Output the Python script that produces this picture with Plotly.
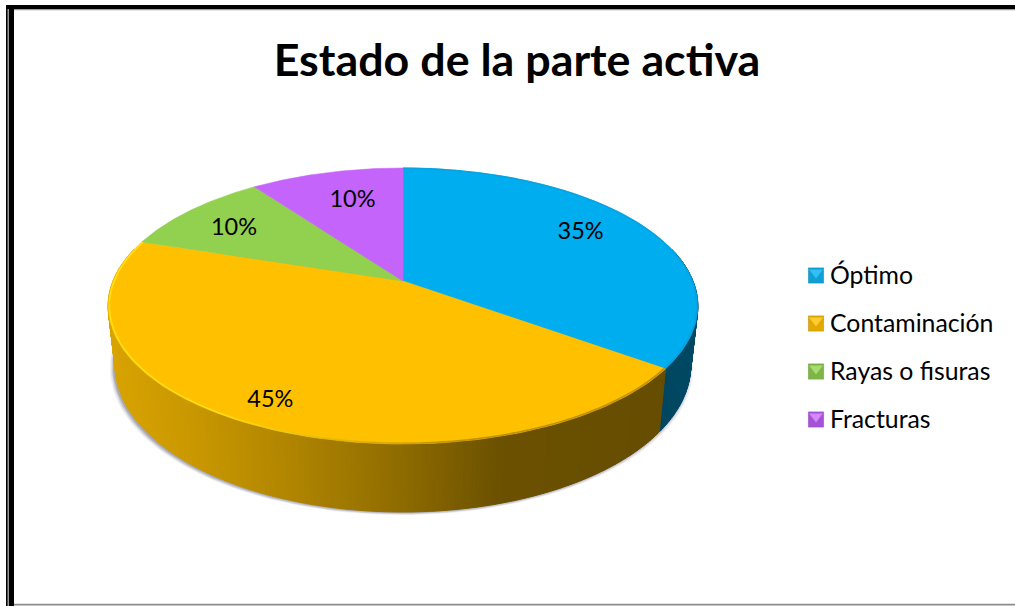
import numpy as np
import plotly.graph_objects as go

TITLE = "Estado de la parte activa"
categories = ["Óptimo", "Contaminación", "Rayas o fisuras", "Fracturas"]
values = [35, 45, 10, 10]
label_texts = ["35%", "45%", "10%", "10%"]
colors = ["#00AEEF", "#FFC000", "#92D050", "#C564FA"]
rim_colors = ["#08A2E0", "#FFE61A", "#92D050", "#C564FA"]
swatch_sides = ["#0F9FD6", "#E2A900", "#7DB546", "#A552D8"]
swatch_tops = ["#33BFF2", "#FFCC33", "#A8DC70", "#D288FB"]
label_radius = [0.72, 0.85, 0.75, 0.68]
label_nudge_x = [2, -3, -6, 4]
label_nudge_y = [-7, 3, 3, -3]

W, H = 1015, 606
CX = 403
# perspective view of the pie: top and bottom faces of the disc
K = -0.181
TOP = dict(a=290.0, b=133.5, y0=281.0)
BOT = dict(a=283.0, b=142.0, y0=338.6)

shade_x = [110, 200, 300, 400, 500, 660, 700]
shade_f = [0.85, 0.78, 0.68, 0.56, 0.42, 0.40, 0.42]


def project(theta, r, face):
    u, v = r * np.sin(theta), -r * np.cos(theta)
    d = 1 + K * v
    return CX + face["a"] * u / d, face["y0"] + face["b"] * v / d


def scaled(color, f):
    c = [int(color[i:i + 2], 16) for i in (1, 3, 5)]
    return "rgb(%d,%d,%d)" % tuple(round(x * f) for x in c)


fractions = np.array(values) / sum(values)
edges = np.concatenate([[0], np.cumsum(fractions)]) * 2 * np.pi
fig = go.Figure()


def poly(xs, ys, fill, line=None, width=1):
    fig.add_trace(go.Scatter(
        x=list(xs), y=list(ys), mode="lines", fill="toself", fillcolor=fill,
        line=dict(color=line or fill, width=width), hoverinfo="skip", showlegend=False))


# soft shadow under the disc
ring = np.linspace(0, 2 * np.pi, 241)
for grow, off, alpha in [(1.014, 3, 0.07), (1.010, 2.5, 0.10), (1.006, 2, 0.16), (1.003, 1, 0.22)]:
    sx, sy = project(ring, 1, BOT)
    poly(CX + (sx - CX) * grow - 1.5, sy + off, "rgba(70,70,95,%.2f)" % alpha, "rgba(0,0,0,0)", 0)

# side wall, in thin strips so the light can vary across it
for i in range(len(values)):
    a0, a1 = edges[i], edges[i + 1]
    n = max(2, int((a1 - a0) / 0.012))
    ts = np.linspace(a0, a1, n + 1)
    for t0, t1 in zip(ts[:-1], ts[1:]):
        if -np.cos((t0 + t1) / 2) < -0.25:
            continue
        xt, yt = project(np.array([t0, t1]), 1, TOP)
        xb, yb = project(np.array([t1, t0]), 1, BOT)
        f = float(np.interp((xt[0] + xt[1]) / 2, shade_x, shade_f))
        poly(np.r_[xt, xb, xt[0]], np.r_[yt, yb, yt[0]], scaled(colors[i], f), width=1)

# top faces
for i, name in enumerate(categories):
    ts = np.linspace(edges[i], edges[i + 1], 120)
    xr, yr = project(ts, 1, TOP)
    ax, ay = project(0.0, 0.0, TOP)
    poly(np.r_[ax, xr, ax], np.r_[ay, yr, ay], colors[i], width=0.5)

# bevel along the front rim
for i in range(2):
    ts = np.linspace(edges[i], edges[i + 1], 61)
    for t0, t1 in zip(ts[:-1], ts[1:]):
        xr, yr = project(np.array([t0, t1]), 0.996, TOP)
        if i == 1:
            w = float(np.clip((CX + 60 - xr.mean()) / 250, 0, 1))
            base = np.array([255, 224, 20]) * w + np.array([190, 145, 0]) * (1 - w)
            col = "rgb(%d,%d,%d)" % tuple(base.round())
        else:
            col = rim_colors[0]
        fig.add_trace(go.Scatter(x=xr, y=yr, mode="lines", line=dict(color=col, width=1.6),
                                 hoverinfo="skip", showlegend=False))

# percentage labels
mids = (edges[:-1] + edges[1:]) / 2
lx, ly = zip(*(project(m, r, TOP) for m, r in zip(mids, label_radius)))
fig.add_trace(go.Scatter(x=np.add(lx, label_nudge_x), y=np.add(ly, label_nudge_y), mode="text", text=label_texts,
                         textfont=dict(family="Lato", size=23.5, color="#000000"),
                         hoverinfo="skip", showlegend=False))

# legend column: bevelled swatch plus its category name
LEG_X, LEG_Y, LEG_STEP = 816, 275.5, 48
leg_y = [LEG_Y + k * LEG_STEP for k in range(len(categories))]
leg_x = [LEG_X] * len(categories)
fig.add_trace(go.Scatter(x=leg_x, y=leg_y, mode="markers", hoverinfo="skip", showlegend=False,
                         marker=dict(symbol="square", size=15.5, color=swatch_sides,
                                     line=dict(color="rgba(0,0,0,0.12)", width=1))))
fig.add_trace(go.Scatter(x=leg_x, y=[v - 3 for v in leg_y], mode="markers", hoverinfo="skip", showlegend=False,
                         marker=dict(symbol="triangle-down", size=12, color=swatch_tops, line_width=0)))
fig.add_trace(go.Scatter(x=[v + 14 for v in leg_x], y=[v + 2 for v in leg_y], mode="text", text=categories,
                         textposition="middle right", hoverinfo="skip", showlegend=False,
                         textfont=dict(family="Lato", size=24.8, color="#000000")))

# frame
frame = [
    (6, 5, 14, H),
    (6, 5, W, 9),
]
shapes = [dict(type="rect", xref="x", yref="y", x0=a, y0=b, x1=c, y1=d, fillcolor="#000000",
               line_width=0, layer="below") for a, b, c, d in frame]
shapes += [
    dict(type="rect", xref="x", yref="y", x0=7.5, y0=9, x1=9, y1=H, fillcolor="#9a9a9a", line_width=0, layer="below"),
    dict(type="rect", xref="x", yref="y", x0=14, y0=9, x1=W, y1=10.2, fillcolor="#9a9a9a", line_width=0, layer="below"),
    dict(type="rect", xref="x", yref="y", x0=14, y0=603.8, x1=W, y1=605.4, fillcolor="#8a8a8a", line_width=0, layer="below"),
]

fig.update_layout(
    width=W, height=H, margin=dict(l=0, r=0, t=0, b=0), autosize=False,
    paper_bgcolor="white", plot_bgcolor="white", shapes=shapes,
    xaxis=dict(range=[0, W], visible=False, fixedrange=True),
    yaxis=dict(range=[H, 0], visible=False, fixedrange=True),
    title=dict(text="<b>%s</b>" % TITLE, x=517 / W, xanchor="center", y=1 - 60 / H, yanchor="middle",
               font=dict(family="Lato", size=44.8, color="#000000")),
    showlegend=False,
)
fig.write_html("out.html", config=dict(displayModeBar=False),
               post_script="document.body.style.margin='0';document.body.style.overflow='hidden';")
